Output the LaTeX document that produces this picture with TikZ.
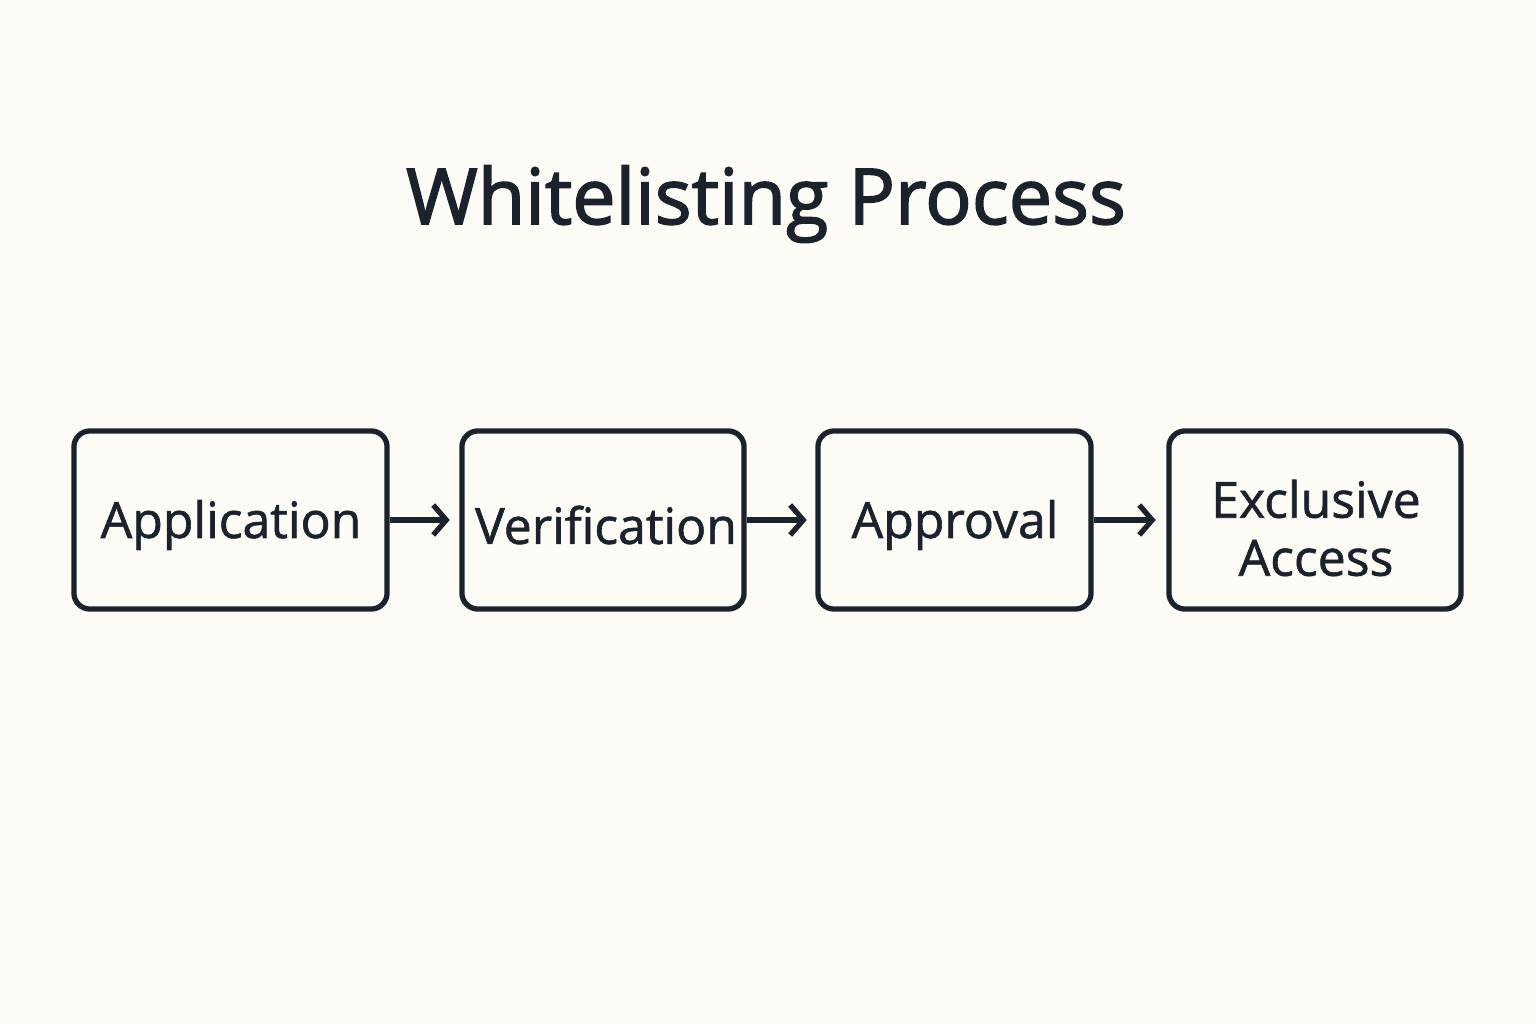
\documentclass[tikz,border=0pt]{standalone}
\usepackage{fontspec}
\setmainfont{Open Sans}
\newfontfamily\medfont[FakeBold=1.2]{Open Sans}
\newfontfamily\tfont[FakeBold=2]{Open Sans}
\usetikzlibrary{arrows.meta}
\definecolor{ink}{HTML}{1B222C}
\definecolor{bg}{HTML}{FDFCF7}
\begin{document}
\begin{tikzpicture}[x=0.01cm,y=-0.01cm,
  stepbox/.style={draw=ink,line width=1.5pt,rounded corners=0.16cm,text=ink,font=\medfont\fontsize{14.2pt}{16.5pt}\selectfont,align=center,inner sep=0pt},
  conn/.style={draw=ink,line width=1.5pt,-{Straight Barb[length=0.13cm,width=0.3cm,line width=1.5pt]}}]
\fill[bg] (0,0) rectangle (1536,1024);
\node[text=ink,font=\tfont\fontsize{22pt}{26pt}\selectfont] (title) at (766,204) {Whitelisting Process};
\node[stepbox,minimum width=3.13cm,minimum height=1.78cm] (a) at (230.5,520) {};
\node[text=ink,font=\medfont\fontsize{14.2pt}{16.5pt}\selectfont] at (231,525) {Application};
\node[stepbox,minimum width=2.82cm,minimum height=1.78cm] (b) at (603,520) {};
\node[text=ink,font=\medfont\fontsize{14.2pt}{16.5pt}\selectfont] at (606,525) {Verification};
\node[stepbox,minimum width=2.73cm,minimum height=1.78cm] (c) at (954.5,520) {};
\node[text=ink,font=\medfont\fontsize{14.2pt}{16.5pt}\selectfont] at (955,525) {Approval};
\node[stepbox,minimum width=2.92cm,minimum height=1.78cm] (d) at (1315,520) {};
\node[text=ink,font=\medfont\fontsize{14.2pt}{16.5pt}\selectfont,align=center] at (1316,528) {Exclusive\\Access};
\draw[conn] (a.east) -- ++(60,0);
\draw[conn] (b.east) -- ++(60,0);
\draw[conn] (c.east) -- ++(62,0);
\end{tikzpicture}
\end{document}
